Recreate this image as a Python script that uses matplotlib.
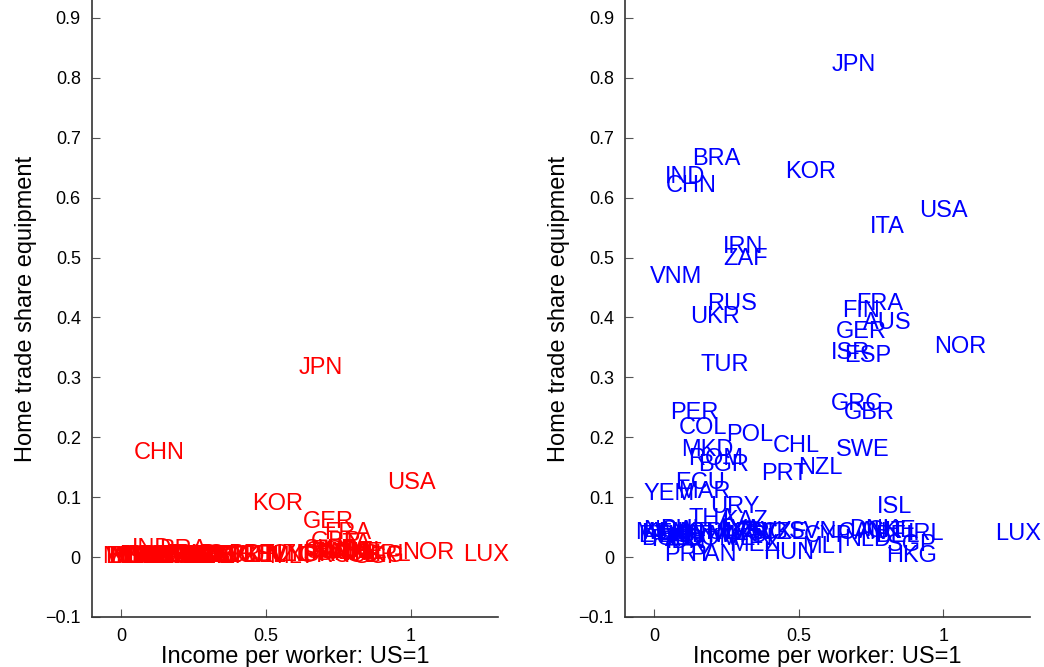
import matplotlib
matplotlib.use("Agg")
import matplotlib.pyplot as plt

plt.rcParams['font.family'] = ['Liberation Sans', 'DejaVu Sans']

# country codes, income per worker (US=1) and home trade share in equipment
# left panel: red series, right panel: blue series
countries = ["JPN", "CHN", "USA", "KOR", "GER", "FRA", "NOR", "LUX", "BRA", "IND",
             "ITA", "IRN", "ZAF", "VNM", "RUS", "UKR", "FIN", "AUS", "ISR", "ESP",
             "TUR", "GRC", "GBR", "PER", "COL", "POL", "CHL", "SWE", "MKD", "ROM",
             "BGR", "NZL", "PRT", "ECU", "YEM", "MAR", "URY", "ISL", "IRL", "HKG",
             "SGP", "NLD", "MLT", "HUN", "PRY", "PAN", "THA", "KAZ", "CAN", "DNK",
             "AUT", "BEL", "CHE", "MWI", "ETH", "KEN", "NGA", "BGD", "PAK", "LKA",
             "BOL", "PHL", "IDN", "EGY", "JOR", "GTM", "DOM", "TUN", "MEX", "ARG",
             "MYS", "VEN", "LVA", "LTU", "EST", "SVK", "CZE", "SVN", "CYP"]

income = [0.69, 0.13, 1.00, 0.54, 0.716, 0.78, 1.06, 1.26, 0.215, 0.107,
          0.806, 0.308, 0.315, 0.076, 0.27, 0.21, 0.716, 0.806, 0.678, 0.737,
          0.246, 0.702, 0.744, 0.138, 0.17, 0.332, 0.491, 0.723, 0.183, 0.215,
          0.239, 0.574, 0.45, 0.159, 0.052, 0.173, 0.28, 0.83, 0.94, 0.889,
          0.89, 0.737, 0.59, 0.467, 0.118, 0.204, 0.20, 0.315, 0.72, 0.76,
          0.79, 0.84, 0.82, 0.02, 0.025, 0.04, 0.05, 0.045, 0.07, 0.09,
          0.095, 0.10, 0.11, 0.14, 0.16, 0.17, 0.20, 0.22, 0.35, 0.38,
          0.30, 0.33, 0.30, 0.32, 0.35, 0.40, 0.45, 0.55, 0.60]

home_share_red = [0.316, 0.173, 0.124, 0.088, 0.059, 0.041, 0.006, 0.003, 0.012, 0.014,
                  0.022, 0.002, 0.001, 0.000, 0.003, 0.001, 0.006, 0.004, 0.004, 0.010,
                  0.003, 0.002, 0.025, 0.001, 0.001, 0.002, 0.002, 0.012, 0.000, 0.001,
                  0.001, 0.003, 0.003, 0.000, 0.000, 0.001, 0.001, 0.002, 0.004, 0.001,
                  0.000, 0.008, 0.000, 0.002, 0.000, 0.000, 0.002, 0.000, 0.008, 0.005,
                  0.007, 0.008, 0.006, 0.000, 0.000, 0.000, 0.000, 0.000, 0.001, 0.000,
                  0.000, 0.001, 0.002, 0.001, 0.000, 0.000, 0.000, 0.001, 0.002, 0.002,
                  0.002, 0.001, 0.000, 0.000, 0.000, 0.001, 0.002, 0.003, 0.003]

home_share_blue = [0.822, 0.620, 0.578, 0.643, 0.375, 0.423, 0.351, 0.038, 0.664, 0.635,
                   0.551, 0.517, 0.498, 0.467, 0.423, 0.401, 0.411, 0.390, 0.341, 0.335,
                   0.320, 0.255, 0.240, 0.240, 0.215, 0.203, 0.186, 0.178, 0.178, 0.164,
                   0.153, 0.149, 0.139, 0.124, 0.106, 0.109, 0.084, 0.084, 0.038, 0.001,
                   0.020, 0.029, 0.016, 0.006, 0.004, 0.004, 0.063, 0.060, 0.040, 0.045,
                   0.042, 0.035, 0.044, 0.040, 0.035, 0.038, 0.043, 0.030, 0.028, 0.040,
                   0.035, 0.045, 0.025, 0.030, 0.040, 0.035, 0.030, 0.040, 0.020, 0.040,
                   0.035, 0.030, 0.045, 0.040, 0.038, 0.042, 0.040, 0.042, 0.035]

yticks = [-0.1, 0, 0.1, 0.2, 0.3, 0.4, 0.5, 0.6, 0.7, 0.8, 0.9]
xticks = [0, 0.5, 1]

fig = plt.figure(figsize=(10.44, 6.67), dpi=100)
ax1 = fig.add_axes([0.0881, 0.075, 0.389, 0.925])
ax2 = fig.add_axes([0.5987, 0.075, 0.388, 0.925])

for ax, vals, col in [(ax1, home_share_red, 'red'), (ax2, home_share_blue, 'blue')]:
    for name, x, y in zip(countries, income, vals):
        ax.text(x, y, name, color=col, fontsize=17, ha='center', va='center')
    ax.set_xlim(-0.1, 1.3)
    ax.set_ylim(-0.1, 0.93)
    ax.set_xticks(xticks)
    ax.set_xticklabels(["0", "0.5", "1"])
    ax.set_yticks(yticks)
    ax.set_yticklabels(["\u22120.1", "0", "0.1", "0.2", "0.3", "0.4", "0.5",
                        "0.6", "0.7", "0.8", "0.9"])
    ax.tick_params(direction='in', length=6, labelsize=13, color='#555555', pad=8)
    for s in ['top', 'right']:
        ax.spines[s].set_visible(False)
    for s in ['left', 'bottom']:
        ax.spines[s].set_color('#333333')
        ax.spines[s].set_linewidth(1.2)
    ax.set_xlabel("Income per worker: US=1", fontsize=17, labelpad=1)
    ax.set_ylabel("Home trade share equipment", fontsize=17, labelpad=6)

fig.savefig("out.png", dpi=100)
